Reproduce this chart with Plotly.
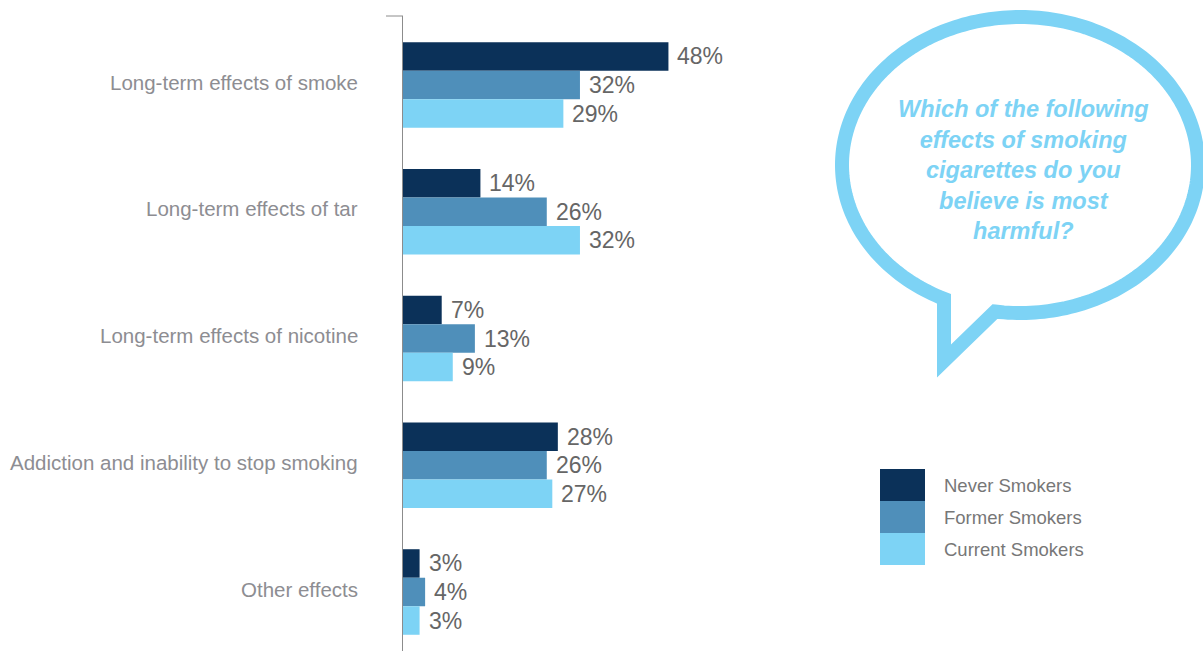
import numpy as np
import plotly.graph_objects as go

# ---- data ----
categories = [
    "Long-term effects of smoke",
    "Long-term effects of tar",
    "Long-term effects of nicotine",
    "Addiction and inability to stop smoking",
    "Other effects",
]
series_names = ["Never Smokers", "Former Smokers", "Current Smokers"]
never_smokers = [48, 14, 7, 28, 3]
former_smokers = [32, 26, 13, 26, 4]
current_smokers = [29, 32, 9, 27, 3]
question = "Which of the following<br>effects of smoking<br>cigarettes do you<br>believe is most<br>harmful?"

# ---- styles ----
COLORS = ["#0b3159", "#4f8fba", "#7dd3f5"]
BUBBLE = "#7dd3f5"
FONT = "Liberation Sans, Arial, Helvetica, sans-serif"
W, H = 1203, 651
ML, MT = 403, 16
PW, PH = W - ML, H - MT
BARGAP = 0.325

values = [never_smokers, former_smokers, current_smokers]
ypos = list(range(len(categories)))

fig = go.Figure()
for name, vals, col in zip(series_names, values, COLORS):
    fig.add_trace(go.Bar(
        x=vals, y=ypos, orientation="h", name=name,
        marker=dict(color=col, line=dict(width=0)),
        showlegend=False, cliponaxis=False,
    ))

annotations = []
# value labels next to each bar
slot = (1 - BARGAP) / len(values)
for k, vals in enumerate(values):
    off = (k - 1) * slot
    for i, v in enumerate(vals):
        annotations.append(dict(
            x=v, y=i + off, xref="x", yref="y", text=f"{v}%",
            showarrow=False, xanchor="left", yanchor="middle", xshift=7,
            font=dict(family=FONT, size=23, color="#666666"),
        ))

def px_to_paper(px, py):
    return (px - ML) / PW, (H - py) / PH

# category labels, right-aligned left of the axis
for i, c in enumerate(categories):
    annotations.append(dict(
        x=px_to_paper(360, 0)[0], y=i, xref="paper", yref="y", text=c,
        showarrow=False, xanchor="right", yanchor="middle", yshift=3,
        font=dict(family=FONT, size=20.5, color="#8d8d92"),
    ))

# speech bubble outline: ellipse arc + tail
cx, cy, rx, ry = 1020, 165, 178, 148
a_start = np.degrees(np.arccos((995 - cx) / rx))       # right tail attach
a_end = np.degrees(np.arccos((944 - cx) / rx)) - 360   # left tail attach
th = np.radians(np.linspace(a_start, a_end, 240))
pts = [(cx + rx * np.cos(t), cy + ry * np.sin(t)) for t in th]
pts += [(944, 361)]
path = ""
for j, (px, py) in enumerate(pts):
    xp, yp = px_to_paper(px, py)
    path += ("M" if j == 0 else "L") + f"{xp:.5f},{yp:.5f} "
path += "Z"

shapes = [
    dict(type="path", xref="paper", yref="paper", path=path,
         line=dict(color=BUBBLE, width=14), fillcolor="rgba(255,255,255,0)",
         layer="above"),
    # small tick at the top of the axis
    dict(type="line", xref="paper", yref="paper",
         x0=px_to_paper(386, 16)[0], x1=0, y0=1, y1=1,
         line=dict(color="#8c8c8c", width=1)),
]

annotations.append(dict(
    x=px_to_paper(1023, 0)[0], y=px_to_paper(0, 170)[1], xref="paper", yref="paper",
    text=f"<b><i>{question}</i></b>", showarrow=False, align="center",
    xanchor="center", yanchor="middle",
    font=dict(family=FONT, size=23.5, color=BUBBLE),
))

# legend: colour blocks with labels
lx0, lx1, ly0, lh = 880, 925, 469, 32
for k, (name, col) in enumerate(zip(series_names, COLORS)):
    x0, y0 = px_to_paper(lx0, ly0 + k * lh)
    x1, y1 = px_to_paper(lx1, ly0 + (k + 1) * lh)
    shapes.append(dict(type="rect", xref="paper", yref="paper",
                       x0=x0, x1=x1, y0=y1, y1=y0, fillcolor=col,
                       line=dict(width=0)))
    annotations.append(dict(
        x=px_to_paper(942, 0)[0], y=(y0 + y1) / 2, xref="paper", yref="paper",
        text=name, showarrow=False, xanchor="left", yanchor="middle",
        font=dict(family=FONT, size=18.5, color="#777777"),
    ))

unit = 126.75
y_top = -(85 - MT) / unit
y_bot = y_top + PH / unit

fig.update_layout(
    width=W, height=H,
    margin=dict(l=ML, r=0, t=MT, b=0, pad=0),
    paper_bgcolor="white", plot_bgcolor="white",
    barmode="group", bargap=BARGAP, bargroupgap=0,
    xaxis=dict(range=[0, PW / 5.53], visible=False, fixedrange=True),
    yaxis=dict(range=[y_bot, y_top], showline=True, linecolor="#8c8c8c",
               linewidth=1, showgrid=False, zeroline=False,
               showticklabels=False, ticks="", fixedrange=True),
    annotations=annotations, shapes=shapes,
    font=dict(family=FONT),
)

fig.write_html("out.html", config={"displayModeBar": False})
